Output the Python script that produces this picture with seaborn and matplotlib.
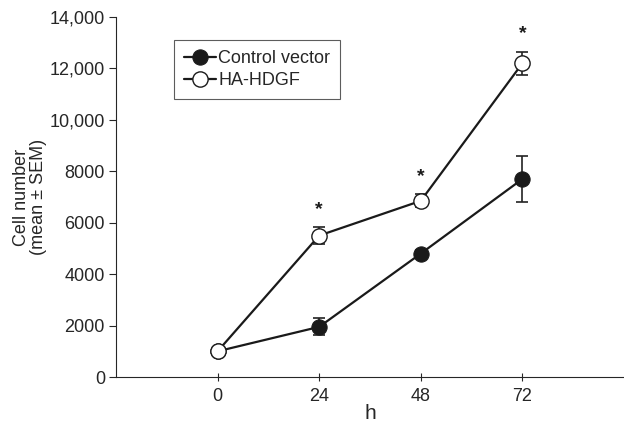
import matplotlib
matplotlib.use('Agg')
import matplotlib.pyplot as plt
import seaborn as sns
import pandas as pd

hours = [0, 24, 48, 72]
control_mean = [1000, 1950, 4800, 7700]
control_sem = [100, 330, 120, 900]
hdgf_mean = [1000, 5500, 6850, 12200]
hdgf_sem = [100, 330, 250, 450]
star_hours = [24, 48, 72]
y_ticks = [0, 2000, 4000, 6000, 8000, 10000, 12000, 14000]
y_tick_labels = ['0', '2000', '4000', '6000', '8000', '10,000', '12,000', '14,000']

sns.set_style("ticks")
plt.rcParams['font.family'] = ['Liberation Sans', 'DejaVu Sans']

df = pd.DataFrame({
    'h': hours * 2,
    'cells': control_mean + hdgf_mean,
    'group': ['Control vector'] * 4 + ['HA-HDGF'] * 4,
})

fig = plt.figure(figsize=(6.24, 4.25), dpi=100)
ax = fig.add_axes([116 / 624, 48 / 425, 508 / 624, 360 / 425])

# error bars first so markers sit on top
ax.errorbar(hours, control_mean, yerr=control_sem, fmt='none', ecolor='#222222',
            elinewidth=1.2, capsize=4, capthick=1.2, zorder=2)
ax.errorbar(hours, hdgf_mean, yerr=hdgf_sem, fmt='none', ecolor='#222222',
            elinewidth=1.2, capsize=4, capthick=1.2, zorder=2)

sns.lineplot(data=df[df.group == 'Control vector'], x='h', y='cells', ax=ax,
             color='#1a1a1a', lw=1.6, marker='o', markersize=11,
             markerfacecolor='#1a1a1a', markeredgecolor='#1a1a1a',
             label='Control vector', zorder=3)
sns.lineplot(data=df[df.group == 'HA-HDGF'], x='h', y='cells', ax=ax,
             color='#1a1a1a', lw=1.6, marker='o', markersize=11,
             markerfacecolor='white', markeredgecolor='#1a1a1a', markeredgewidth=1.0,
             label='HA-HDGF', zorder=3)

# significance stars
for hr in star_hours:
    i = hours.index(hr)
    ax.text(hr, hdgf_mean[i] + hdgf_sem[i] + 700, '*', ha='center', va='center',
            fontsize=14, fontweight='bold', color='#1a1a1a')

ax.set_xlim(-24, 96)
ax.set_ylim(0, 14000)
ax.set_xticks(hours)
ax.set_xticklabels([str(h) for h in hours], fontsize=13)
ax.set_yticks(y_ticks)
ax.set_yticklabels(y_tick_labels, fontsize=13)
ax.tick_params(axis='x', direction='inout', length=6, width=0.8, pad=5)
ax.tick_params(axis='y', direction='out', length=5, width=0.8, pad=3)
ax.set_xlabel('h', fontsize=15, labelpad=-1)
ax.set_ylabel('Cell number\n(mean ± SEM)', fontsize=13, labelpad=2, linespacing=1.0)

sns.despine(ax=ax)
ax.spines['left'].set_linewidth(0.8)
ax.spines['bottom'].set_linewidth(0.8)

leg = ax.legend(loc='upper left', bbox_to_anchor=(0.114, 0.935), frameon=True,
                fancybox=False, edgecolor='#333333', fontsize=13, handlelength=1.8,
                handletextpad=0.1, borderpad=0.55, labelspacing=0.25, borderaxespad=0)
leg.get_frame().set_linewidth(0.8)

fig.savefig('out.png', dpi=100)
